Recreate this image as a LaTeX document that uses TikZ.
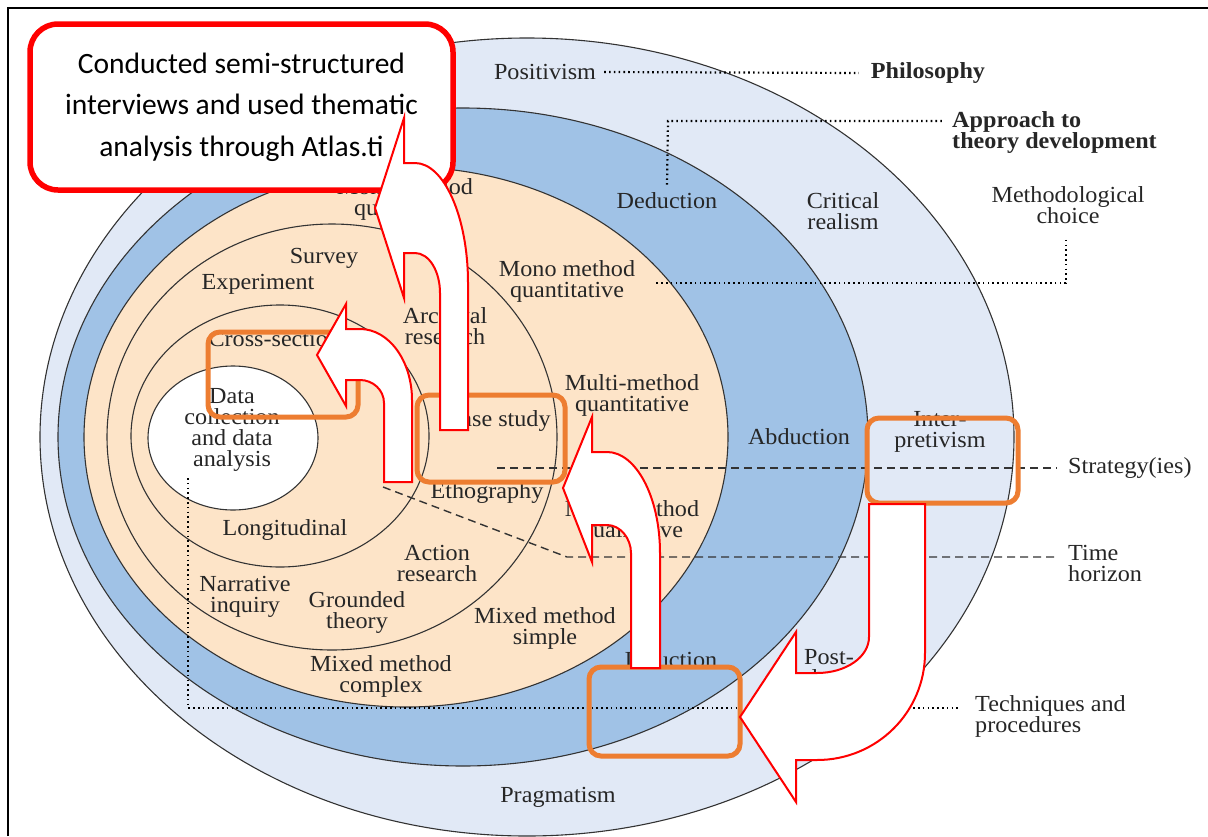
\documentclass[tikz,border=0pt]{standalone}
\usepackage{fontspec}
\setmainfont[FakeStretch=1.05]{Liberation Serif}
\newfontfamily\calloutfont{Carlito}
\definecolor{outerblue}{HTML}{E1E9F6}
\definecolor{ringblue}{HTML}{A0C2E6}
\definecolor{peach}{HTML}{FDE4C8}
\definecolor{hiorange}{HTML}{ED7D31}
\definecolor{ink}{HTML}{262626}
\definecolor{rimgray}{HTML}{333333}
\tikzset{
  onion/.style={draw=rimgray, line width=1.1pt},
  lbl/.style={text=ink, inner sep=0pt, align=center, font=\fontsize{23}{21}\selectfont},
  boldlbl/.style={lbl, font=\fontsize{23}{21}\selectfont\bfseries},
  dotline/.style={draw=black, line width=2.2pt, dash pattern=on 1.6pt off 3.2pt},
  dashline/.style={draw=rimgray, line width=1.4pt, dash pattern=on 8pt off 5pt},
  hibox/.style={draw=hiorange, line width=5pt, rounded corners=12pt, rectangle, inner sep=0pt},
  flowarrow/.style={draw=red, fill=white, line width=2pt, line join=miter},
  callout/.style={draw=red, fill=white, line width=5.5pt, rounded corners=28pt, rectangle,
    inner sep=0pt, align=center, text=black, font=\calloutfont\fontsize{29.5}{41.5}\selectfont}
}
\begin{document}
\begin{tikzpicture}[x=1pt, y=-1pt]
\useasboundingbox (0,0) rectangle (1208,836);

% page frame
\draw[line width=1.5pt, black] (8,836) -- (8,8) -- (1208,8);

% the layers of the onion, outside in
\path[onion, fill=outerblue] (527,437) ellipse [x radius=487pt, y radius=399pt];
\path[onion, fill=ringblue]  (463,437) ellipse [x radius=405pt, y radius=329pt];
\path[onion, fill=peach]     (406,437) ellipse [x radius=322pt, y radius=270pt];
\path[onion, fill=peach]     (332,437) ellipse [x radius=225pt, y radius=213pt];
\path[onion, fill=peach]     (280,436) ellipse [x radius=149pt, y radius=131pt];
\path[onion, fill=white]     (233,438) ellipse [x radius=85pt,  y radius=72pt];

% layer labels
\node[lbl] (positivism) at (545,72) {Positivism};
\node[boldlbl] (philosophy) at (928,73) {Philosophy};
\node[boldlbl, anchor=west, align=left] (approach) at (952,132) {Approach to\\theory development};
\node[lbl] (deduction) at (667,201) {Deduction};
\node[lbl] (critical) at (843,211) {Critical\\realism};
\node[lbl] (methchoice) at (1068,205) {Methodological\\choice};
\node[lbl] (monoqual) at (405,199) {Mono method\\qualitative};
\node[lbl] (survey) at (324,258) {Survey};
\node[lbl] (experiment) at (258,284) {Experiment};
\node[lbl] (monoquant) at (567,281) {Mono method\\quantitative};
\node[lbl] (archival) at (445,326) {Archival\\research};
\node[lbl] (crosssec) at (283,339) {Cross-sectional};
\node[lbl] (datacoll) at (232,430) {Data\\collection\\and data\\analysis};
\node[lbl] (multiquant) at (632,395) {Multi-method\\quantitative};
\node[lbl] (casestudy) at (498,421) {Case study};
\node[lbl] (abduction) at (799,437) {Abduction};
\node[lbl] (interp) at (940,432) {Inter-\\pretivism};
\node[lbl] (ethno) at (487,493) {Ethography};
\node[lbl, anchor=west] (strategy) at (1068,468) {Strategy(ies)};
\node[lbl] (multiqual) at (632,521) {Multi-method\\qualitative};
\node[lbl] (longit) at (285,530) {Longitudinal};
\node[lbl] (action) at (437,563) {Action\\research};
\node[lbl, anchor=west, align=left] (timeh) at (1068,563) {Time\\horizon};
\node[lbl] (narrative) at (245,597) {Narrative\\inquiry};
\node[lbl] (grounded) at (357,612) {Grounded\\theory};
\node[lbl] (mixedsimple) at (545,628) {Mixed method\\simple};
\node[lbl] (induction) at (671,660) {Induction};
\node[lbl] (postmod) at (829,668) {Post-\\modernism};
\node[lbl] (mixedcomplex) at (381,676) {Mixed method\\complex};
\node[lbl, anchor=west, align=left] (techniques) at (975,716) {Techniques and\\procedures};
\node[lbl] (pragmatism) at (558,797) {Pragmatism};

% leader lines to the layer names
\draw[dotline] ([xshift=8pt]positivism.east) -- ([xshift=-12pt]philosophy.west);
\coordinate (apK) at (668,121);
\draw[dotline] ([yshift=8pt]deduction.north) -- (apK) -- ([xshift=-10pt]approach.west |- apK);
\coordinate (mcK) at (1066,283);
\coordinate (mcEnd) at (655,283);
\draw[dotline] ([yshift=-16pt]methchoice.south -| mcK) -- (mcK) -- (mcEnd);
\coordinate (stratS) at (497,468);
\draw[dashline] (stratS) -- ([xshift=-11pt]strategy.west);
\coordinate (timeA) at (383,487);
\coordinate (timeB) at (567,557);
\draw[dashline] (timeA) -- (timeB) -- ([xshift=-11pt]timeh.west |- timeB);
\coordinate (techA) at (188,478);
\coordinate (techB) at (188,708);
\draw[dotline] (techA) -- (techB) -- ([xshift=-15pt]techniques.west |- techB);

% highlighted choices
\node[hibox, minimum width=150pt, minimum height=85pt] (crossbox) at (283,374.5) {};
\node[hibox, minimum width=148pt, minimum height=87pt] (casebox) at (491,438.5) {};
\node[hibox, minimum width=151pt, minimum height=85pt] (interpbox) at (942.5,460.5) {};
\node[hibox, minimum width=151pt, minimum height=89pt] (techbox) at (664.5,711.5) {};

% note on the data collection
\node[callout, minimum width=423pt, minimum height=166pt] (note) at (241.5,107)
  {Conducted semi-structured\\interviews and used thematic\\analysis through Atlas.ti};

% curved arrows linking the highlighted choices
\draw[flowarrow] (375,208) -- (404,118) -- (404,163) -- (415,163)
  .. controls (444,163) and (468,217) .. (468,283) -- (468,430) -- (440,430) -- (440,293)
  .. controls (440,271) and (429,253) .. (415,253) -- (404,253) -- (404,298) -- cycle;
\draw[flowarrow] (317,355) -- (346,304) -- (346,329) -- (360,329)
  .. controls (389,329) and (412,361) .. (412,400) -- (412,482) -- (384,482) -- (384,403)
  .. controls (384,390) and (373,380) .. (360,380) -- (346,380) -- (346,406) -- cycle;
\draw[flowarrow] (563,488) -- (592,417) -- (592,452) -- (607,452)
  .. controls (636,452) and (660,497) .. (660,553) -- (660,668) -- (631,668) -- (631,553)
  .. controls (631,538) and (620,525) .. (607,525) -- (592,525) -- (592,562) -- cycle;
\draw[flowarrow] (740,717) -- (796,632) -- (796,673) -- (817,673)
  .. controls (846,673) and (869,657) .. (869,637) -- (869,504) -- (925,504) -- (925,653)
  .. controls (925,712) and (877,760) .. (817,760) -- (796,760) -- (796,802) -- cycle;
\end{tikzpicture}
\end{document}
